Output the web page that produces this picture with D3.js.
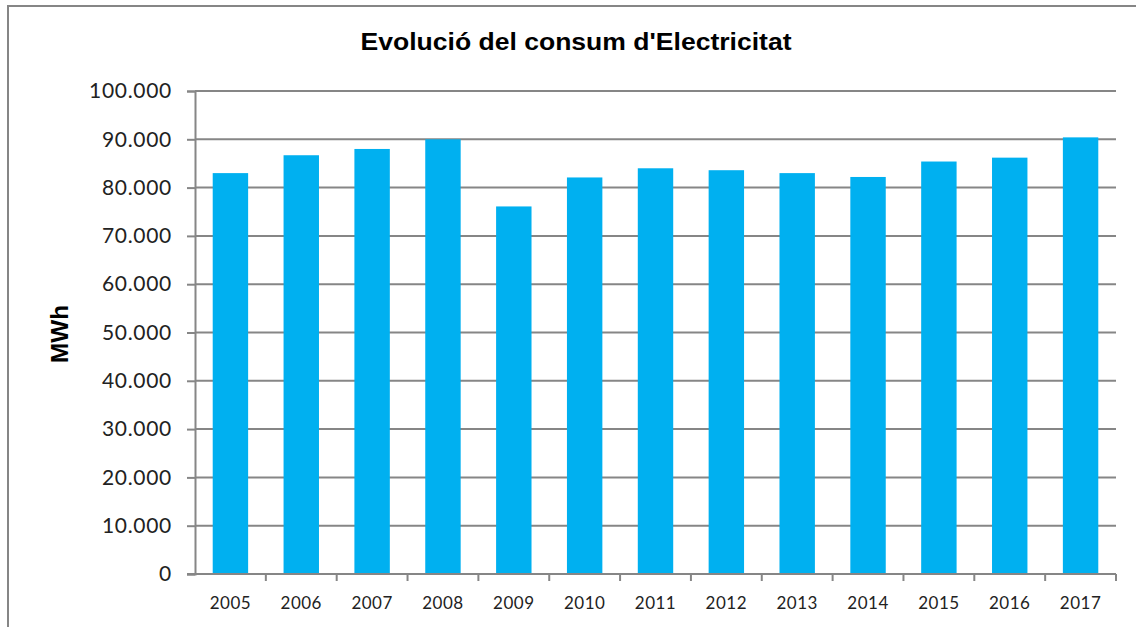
<!DOCTYPE html>
<html><head><meta charset="utf-8">
<script src="https://cdn.jsdelivr.net/npm/d3@7"></script>
<style>body{margin:0;background:#fff;}svg{display:block;}</style>
</head><body>
<svg id="c" width="1136" height="627"></svg>
<script>
const years = ["2005","2006","2007","2008","2009","2010","2011","2012","2013","2014","2015","2016","2017"];
const consumption = [83000, 86700, 88000, 90000, 76100, 82100, 84000, 83600, 83000, 82200, 85400, 86200, 90400];
const yTicks = [0,10000,20000,30000,40000,50000,60000,70000,80000,90000,100000];
const title = "Evolució del consum d'Electricitat";
const yTitle = "MWh";

const svg = d3.select("#c");
const m = {left:195, right:1116, top:91, bottom:574};
const grey = "#868686";

svg.append("rect").attr("x",8).attr("y",6).attr("width",1140).attr("height",640)
  .attr("fill","none").attr("stroke",grey).attr("stroke-width",2);

const x = d3.scaleBand().domain(years).range([m.left,m.right]).paddingInner(0.5).paddingOuter(0.25);
const y = d3.scaleLinear().domain([0,100000]).range([m.bottom,m.top]);
const fmt = d => d3.format(",")(d).replace(/,/g,".");

// gridlines
svg.append("g").selectAll("line").data(yTicks.filter(d=>d>0)).join("line")
  .attr("x1",m.left).attr("x2",m.right).attr("y1",d=>y(d)).attr("y2",d=>y(d))
  .attr("stroke",grey).attr("stroke-width",2);

// bars
svg.append("g").selectAll("rect").data(consumption).join("rect")
  .attr("x",(d,i)=>x(years[i])).attr("width",x.bandwidth())
  .attr("y",d=>y(d)).attr("height",d=>y(0)-y(d))
  .attr("fill","#00B0F0");

// y axis
const ya = svg.append("g").attr("transform",`translate(${m.left},0)`)
  .call(d3.axisLeft(y).tickValues(yTicks).tickFormat(fmt).tickSize(8).tickPadding(15));
ya.select(".domain").attr("stroke",grey).attr("stroke-width",2);
ya.selectAll(".tick line").attr("stroke",grey).attr("stroke-width",2);
ya.selectAll(".tick text").attr("font-family","Lato, sans-serif").attr("font-size",21)
  .attr("letter-spacing","0.7px").attr("fill","#222");

// x axis
const xEdge = d3.scaleLinear().domain([0,years.length]).range([m.left,m.right]);
const xa = svg.append("g").attr("transform",`translate(0,${m.bottom})`);
xa.append("line").attr("x1",m.left-8).attr("x2",m.right).attr("stroke",grey).attr("stroke-width",2);
xa.selectAll("line.t").data(d3.range(1,years.length+1)).join("line").attr("class","t")
  .attr("x1",d=>xEdge(d)).attr("x2",d=>xEdge(d)).attr("y1",0).attr("y2",7)
  .attr("stroke",grey).attr("stroke-width",2);
xa.selectAll("text").data(years).join("text")
  .attr("x",d=>x(d)+x.bandwidth()/2).attr("y",35).attr("text-anchor","middle")
  .attr("font-family","Lato, sans-serif").attr("font-size",17).attr("letter-spacing","0.5px")
  .attr("fill","#222").text(d=>d);

// title
svg.append("text").attr("x",576).attr("y",50).attr("text-anchor","middle")
  .attr("font-family","'Liberation Sans', Arial, sans-serif").attr("font-weight","bold")
  .attr("font-size",23).attr("textLength",431).attr("lengthAdjust","spacingAndGlyphs")
  .attr("fill","#000").text(title);

svg.append("text").attr("transform","translate(68,334) rotate(-90)").attr("text-anchor","middle")
  .attr("font-family","'Liberation Sans', Arial, sans-serif").attr("font-weight","bold")
  .attr("font-size",23).attr("textLength",58).attr("lengthAdjust","spacingAndGlyphs")
  .attr("fill","#000").text(yTitle);
</script>
</body></html>
